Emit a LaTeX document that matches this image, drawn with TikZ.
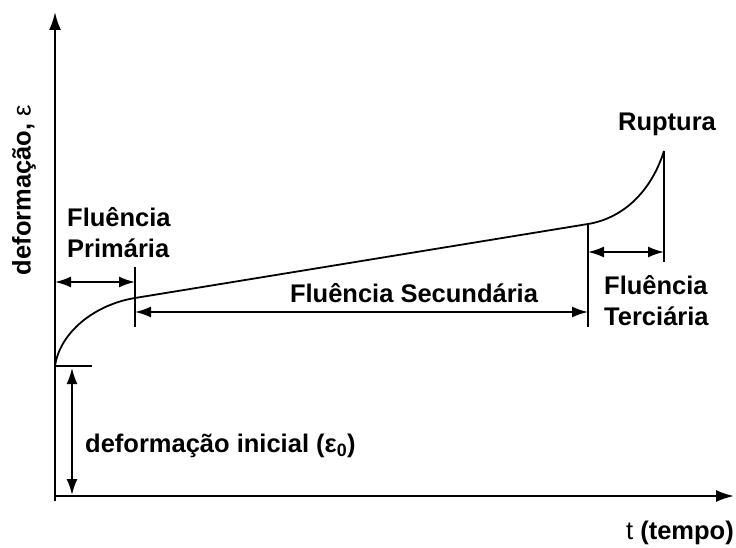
\documentclass[tikz,border=0pt]{standalone}
\usepackage{fontspec}
\setmainfont{Liberation Sans}
\usetikzlibrary{arrows.meta}

\begin{document}
\begin{tikzpicture}[x=1pt,y=-1pt,
    lbl/.style={font=\fontsize{25.5}{31}\selectfont\bfseries,inner sep=0pt,align=left},
    axis/.style={line width=2.2pt,-{Latex[length=18pt,width=12pt]}},
    dim/.style={line width=1.8pt,{Latex[length=16pt,width=11pt]}-{Latex[length=16pt,width=11pt]}},
    tick/.style={line width=1.8pt}]
    \useasboundingbox (0,0) rectangle (736,548);
    % axes
    \coordinate (ybot) at (55,501);
    \coordinate (ytop) at (55,12);
    \coordinate (O) at (55,496);
    \coordinate (xend) at (734,496);
    \draw[axis] (ybot) -- (ytop);
    \draw[axis] (O) -- (xend);
    \node[rotate=90,font=\fontsize{25.5}{31}\selectfont] (ylbl) at (24,190) {\bfseries deformação, \mdseries ε};
    \node[lbl,anchor=east] (tlbl) at (734,533) {\mdseries t \bfseries(tempo)};
    % curve
    \coordinate (e0) at (55,366);
    \coordinate (p1) at (135,298);
    \coordinate (p2) at (588,224);
    \coordinate (rup) at (664,151);
    \draw[tick] (e0) .. controls (60,332) and (95,304.5) .. (p1) -- (p2)
        .. controls (620,218.8) and (650,195) .. (rup);
    % ticks
    \coordinate (e0r) at (92,366);
    \coordinate (p1t) at (135,267);
    \coordinate (p1b) at (135,327);
    \coordinate (p2b) at (588,327);
    \coordinate (rupb) at (664,262);
    \draw[tick] (e0) -- (e0r);
    \draw[tick] (p1t) -- (p1b);
    \draw[tick] (p2) -- (p2b);
    \draw[tick] (rup) -- (rupb);
    % dimension arrows
    \coordinate (i1) at (72,368);
    \coordinate (i2) at (72,495);
    \coordinate (a1) at (55,282);
    \coordinate (a2) at (135,282);
    \coordinate (b1) at (135,312);
    \coordinate (b2) at (588,312);
    \coordinate (c1) at (588,252);
    \coordinate (c2) at (664,252);
    \draw[dim] (i1) -- (i2);
    \draw[dim] (a1) -- (a2);
    \draw[dim] (b1) -- (b2);
    \draw[dim] (c1) -- (c2);
    % labels
    \node[lbl,anchor=west] (ini) at (85,446) {deformação inicial (ε\textsubscript{0})};
    \node[lbl,anchor=west] (prim) at (67,233) {Fluência\\Primária};
    \node[lbl] (sec) at (414,293) {Fluência Secundária};
    \node[lbl,anchor=west] (ter) at (604,301) {Fluência\\Terciária};
    \node[lbl] (rlbl) at (667,124) {Ruptura};
\end{tikzpicture}
\end{document}
